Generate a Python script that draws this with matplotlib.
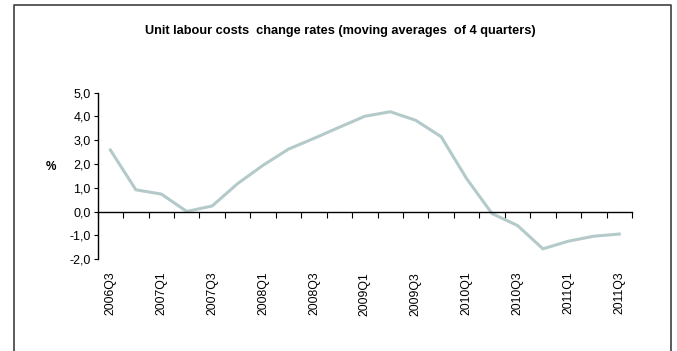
import matplotlib
matplotlib.use("Agg")
import matplotlib.pyplot as plt
from matplotlib.lines import Line2D
from matplotlib.ticker import FuncFormatter, FixedLocator

# quarters 2006Q3 .. 2011Q3
quarters = ['2006Q3', '2006Q4', '2007Q1', '2007Q2', '2007Q3', '2007Q4',
            '2008Q1', '2008Q2', '2008Q3', '2008Q4', '2009Q1', '2009Q2',
            '2009Q3', '2009Q4', '2010Q1', '2010Q2', '2010Q3', '2010Q4',
            '2011Q1', '2011Q2', '2011Q3']
ulc_change = [2.59, 0.92, 0.74, 0.01, 0.24, 1.18, 1.95, 2.63, 3.08, 3.55,
              4.01, 4.20, 3.84, 3.15, 1.39, -0.08, -0.58, -1.56, -1.24,
              -1.03, -0.94]

plt.rcParams['font.family'] = ['Liberation Sans', 'DejaVu Sans']

fig = plt.figure(figsize=(6.77, 3.51), dpi=100)
ax = fig.add_axes([0.1443, 0.2613, 0.7892, 0.4746])

x = list(range(len(quarters)))
ax.plot(x, ulc_change, color='#b4caca', lw=2.2, solid_joinstyle='miter')

ax.set_xlim(-0.5, len(quarters) - 0.5)
ax.set_ylim(-2, 5)
ax.set_yticks([-2, -1, 0, 1, 2, 3, 4, 5])
ax.yaxis.set_major_formatter(FuncFormatter(lambda v, p: f'{v:.1f}'.replace('.', ',')))
ax.tick_params(axis='y', direction='out', length=3, width=0.8, labelsize=9,
               colors='black', pad=2)

# x axis line sits on zero, tick marks on category boundaries
for s in ['top', 'right']:
    ax.spines[s].set_visible(False)
ax.spines['bottom'].set_position(('data', 0))
ax.spines['bottom'].set_linewidth(1.0)
ax.spines['left'].set_linewidth(1.0)
ax.xaxis.set_major_locator(FixedLocator([i - 0.5 for i in range(len(quarters) + 1)]))
ax.tick_params(axis='x', direction='out', length=4, width=0.8, labelbottom=False)

# category labels below the plot area
sec = ax.secondary_xaxis('bottom')
sec.set_xticks(x[::2])
sec.set_xticklabels(quarters[::2], rotation=90)
sec.tick_params(length=0, labelsize=8.8, pad=9)
sec.spines['bottom'].set_visible(False)

ax.set_ylabel('%', rotation=0, fontsize=8.5, fontweight='bold')
ax.yaxis.set_label_coords(-0.087, 0.52)

fig.text(0.502, 0.912, 'Unit labour costs  change rates (moving averages  of 4 quarters)',
         ha='center', va='center', fontsize=9.2, fontweight='bold')

# outer frame (open at the bottom)
fx0, fx1, fy1 = 13.5 / 677, 671 / 677, 1 - 4.5 / 351
fig.add_artist(Line2D([fx0, fx0, fx1, fx1], [-0.1, fy1, fy1, -0.1],
                      transform=fig.transFigure, color='#404040', lw=1.2))

fig.savefig('out.png', dpi=100)
